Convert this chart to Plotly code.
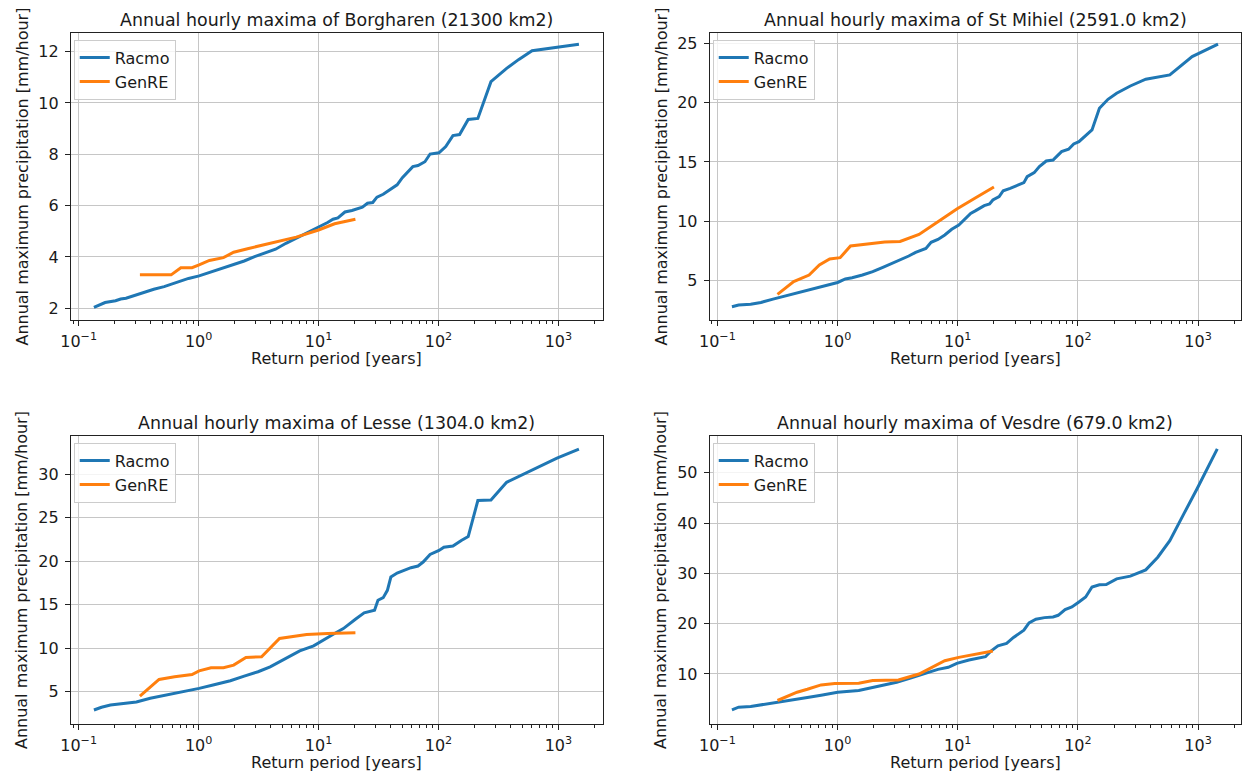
import plotly.graph_objects as go

# Return periods [years] and annual maximum hourly precipitation [mm/hour]

# Borgharen (21300 km2)
borgharen_racmo_T = [0.134, 0.166, 0.203, 0.224, 0.248, 0.324, 0.423, 0.516, 0.631, 0.824,
                     1.01, 1.23, 1.61, 1.84, 2.10, 2.40, 2.93, 3.58, 4.38, 5.35,
                     6.52, 7.96, 10.0, 11.9, 13.2, 14.5, 16.6, 19.0, 23.2, 25.6,
                     28.3, 30.7, 34.6, 38.3, 40.9, 45.2, 50.0, 61.1, 67.5, 77.1,
                     85.1, 101, 115, 132, 150, 177, 213, 274, 370, 468,
                     603, 973, 1483]
borgharen_racmo_P = [2.03, 2.22, 2.29, 2.36, 2.39, 2.58, 2.74, 2.84, 2.97, 3.16,
                     3.26, 3.39, 3.56, 3.65, 3.75, 3.84, 4.01, 4.14, 4.30, 4.53,
                     4.73, 4.92, 5.14, 5.34, 5.47, 5.52, 5.75, 5.81, 5.94, 6.09,
                     6.12, 6.33, 6.44, 6.57, 6.68, 6.81, 7.09, 7.52, 7.56, 7.71,
                     8.01, 8.06, 8.30, 8.73, 8.77, 9.36, 9.40, 10.83, 11.35, 11.70,
                     12.04, 12.16, 12.29]
borgharen_genre_T = [0.324, 0.590, 0.711, 0.881, 1.01, 1.23, 1.61, 1.96, 2.56, 3.58,
                     4.68, 6.52, 10.0, 13.6, 20.3]
borgharen_genre_P = [3.30, 3.30, 3.58, 3.58, 3.69, 3.86, 3.97, 4.18, 4.32, 4.49,
                     4.60, 4.77, 5.05, 5.29, 5.47]

# St Mihiel (2591.0 km2)
stmihiel_racmo_T = [0.132, 0.150, 0.189, 0.230, 0.290, 0.378, 0.491, 0.640, 0.832, 1.0,
                    1.16, 1.32, 1.61, 1.96, 2.38, 3.10, 3.91, 4.46, 5.43, 6.00,
                    6.84, 7.80, 8.91, 10.2, 11.2, 12.8, 14.1, 16.6, 18.4, 19.6,
                    22.1, 23.9, 27.3, 32.1, 35.5, 37.8, 43.3, 47.8, 54.5, 62.1,
                    73.1, 83.6, 92.3, 102, 116, 131, 151, 178, 210, 273,
                    367, 582, 893, 1466]
stmihiel_racmo_P = [2.81, 2.95, 3.01, 3.17, 3.45, 3.75, 4.05, 4.38, 4.65, 4.85,
                    5.15, 5.25, 5.48, 5.76, 6.12, 6.60, 7.08, 7.39, 7.72, 8.23,
                    8.48, 8.85, 9.33, 9.69, 10.06, 10.67, 10.90, 11.32, 11.46, 11.80,
                    12.08, 12.58, 12.78, 13.06, 13.26, 13.76, 14.10, 14.61, 15.08, 15.17,
                    15.87, 16.07, 16.52, 16.71, 17.19, 17.70, 19.52, 20.28, 20.79, 21.40,
                    21.97, 22.33, 23.88, 24.92]
stmihiel_genre_T = [0.316, 0.431, 0.579, 0.705, 0.859, 1.05, 1.28, 1.96, 2.47, 3.31,
                    4.76, 6.84, 9.82, 14.1, 20.0]
stmihiel_genre_P = [3.85, 4.92, 5.48, 6.32, 6.83, 6.94, 7.92, 8.15, 8.26, 8.31,
                    8.90, 9.97, 11.04, 11.99, 12.89]

# Lesse (1304.0 km2)
lesse_racmo_T = [0.134, 0.155, 0.184, 0.232, 0.303, 0.395, 0.552, 0.771, 1.01, 1.32,
                 1.84, 2.40, 3.13, 3.95, 4.68, 5.71, 6.97, 9.10, 11.1, 13.6,
                 16.1, 18.4, 20.3, 24.0, 29.3, 31.3, 34.6, 37.5, 40.1, 45.2,
                 51.6, 59.0, 67.5, 74.5, 85.1, 101, 111, 132, 155, 177,
                 213, 274, 370, 500, 697, 973, 1483]
lesse_racmo_P = [2.90, 3.21, 3.47, 3.66, 3.82, 4.24, 4.62, 5.08, 5.38, 5.76,
                 6.26, 6.79, 7.29, 7.86, 8.40, 9.01, 9.69, 10.27, 10.92, 11.68,
                 12.25, 12.90, 13.32, 14.05, 14.35, 15.50, 15.80, 16.64, 18.17, 18.63,
                 18.93, 19.24, 19.43, 19.89, 20.76, 21.22, 21.60, 21.72, 22.37, 22.82,
                 26.95, 27.02, 29.05, 29.92, 30.95, 31.83, 32.86]
lesse_genre_T = [0.324, 0.468, 0.631, 0.881, 1.01, 1.27, 1.61, 1.96, 2.48, 3.35,
                 4.73, 6.11, 7.96, 11.9, 20.3]
lesse_genre_P = [4.50, 6.41, 6.72, 6.98, 7.40, 7.75, 7.75, 8.05, 8.93, 9.01,
                 11.11, 11.30, 11.56, 11.68, 11.76]

# Vesdre (679.0 km2)
vesdre_racmo_T = [0.132, 0.150, 0.189, 0.290, 0.431, 0.560, 0.729, 1.0, 1.50, 2.09,
                  3.10, 4.04, 5.26, 6.84, 8.34, 9.82, 12.4, 15.1, 17.0, 19.0,
                  21.6, 25.5, 29.1, 35.5, 39.2, 44.7, 52.7, 62.1, 68.5, 78.2,
                  89.1, 102, 116, 131, 151, 172, 210, 273, 367, 462,
                  582, 759, 986, 1445]
vesdre_racmo_P = [2.88, 3.41, 3.54, 4.20, 4.86, 5.32, 5.78, 6.38, 6.70, 7.50,
                  8.35, 9.21, 10.0, 10.92, 11.32, 12.11, 12.77, 13.23, 13.43, 14.61,
                  15.60, 16.06, 17.25, 18.70, 20.15, 20.87, 21.20, 21.33, 21.66, 22.78,
                  23.31, 24.30, 25.29, 27.27, 27.73, 27.79, 28.91, 29.44, 30.69, 33.20,
                  36.49, 41.76, 46.90, 54.74]
vesdre_genre_T = [0.316, 0.460, 0.560, 0.729, 0.948, 1.50, 1.96, 3.21, 4.76, 7.80,
                  10.2, 14.1, 19.6]
vesdre_genre_P = [4.73, 6.38, 6.97, 7.83, 8.09, 8.15, 8.68, 8.81, 10.0, 12.64,
                  13.30, 13.95, 14.55]

panels = [
    dict(title="Annual hourly maxima of Borgharen (21300 km2)",
         racmo=(borgharen_racmo_T, borgharen_racmo_P),
         genre=(borgharen_genre_T, borgharen_genre_P),
         yrange=[1.54, 12.74], dtick=2),
    dict(title="Annual hourly maxima of St Mihiel (2591.0 km2)",
         racmo=(stmihiel_racmo_T, stmihiel_racmo_P),
         genre=(stmihiel_genre_T, stmihiel_genre_P),
         yrange=[1.69, 25.89], dtick=5),
    dict(title="Annual hourly maxima of Lesse (1304.0 km2)",
         racmo=(lesse_racmo_T, lesse_racmo_P),
         genre=(lesse_genre_T, lesse_genre_P),
         yrange=[1.29, 34.40], dtick=5),
    dict(title="Annual hourly maxima of Vesdre (679.0 km2)",
         racmo=(vesdre_racmo_T, vesdre_racmo_P),
         genre=(vesdre_genre_T, vesdre_genre_P),
         yrange=[0.06, 57.35], dtick=10),
]

W, H = 1243, 772
BLUE, ORANGE = "#1f77b4", "#ff7f0e"
FONT = "DejaVu Sans"
TXT = "#1a1a1a"

# axes boxes in pixels: (left, right, top, bottom)
col_px = [(60.3, 597.3), (705.0, 1240.7)]
row_px = [(32.7, 320.0), (435.7, 724.0)]
xranges = [[-1.066, 3.372], [-1.064, 3.355]]

major_vals = [0.1, 1, 10, 100, 1000]
major_text = ["10<sup>\u22121</sup>", "10<sup>0</sup>", "10<sup>1</sup>",
              "10<sup>2</sup>", "10<sup>3</sup>"]
minor_vals = [m * 10.0 ** e for e in range(-2, 4) for m in range(2, 10)]

fig = go.Figure()
annotations = []
layout = {}

for i, p in enumerate(panels):
    r, c = divmod(i, 2)
    left, right = col_px[c]
    top, bottom = row_px[r]
    sfx = "" if i == 0 else str(i + 1)
    xa, ya = "x" + sfx, "y" + sfx
    leg = "legend" + sfx

    fig.add_trace(go.Scatter(x=p["racmo"][0], y=p["racmo"][1], mode="lines",
                             name="Racmo", line=dict(color=BLUE, width=3),
                             xaxis=xa, yaxis=ya, legend=leg, legendgroup="a" + sfx))
    fig.add_trace(go.Scatter(x=p["genre"][0], y=p["genre"][1], mode="lines",
                             name="GenRE", line=dict(color=ORANGE, width=3),
                             xaxis=xa, yaxis=ya, legend=leg, legendgroup="b" + sfx))

    common = dict(showline=True, mirror=True, linecolor="#222222", linewidth=1,
                  showgrid=True, gridcolor="#c6c6c6", gridwidth=1, zeroline=False,
                  ticks="outside", ticklen=5, tickwidth=1, tickcolor="#222222",
                  tickfont=dict(family=FONT, size=16, color=TXT))
    layout["xaxis" + sfx] = dict(
        common, type="log", range=xranges[c], anchor=ya,
        domain=[left / W, right / W],
        tickmode="array", tickvals=major_vals, ticktext=major_text,
        ticklabelstandoff=2,
        minor=dict(tickmode="array", tickvals=minor_vals, ticks="outside",
                   ticklen=3, tickwidth=0.8, tickcolor="#222222", showgrid=False))
    layout["yaxis" + sfx] = dict(
        common, range=p["yrange"], anchor=xa,
        domain=[1 - bottom / H, 1 - top / H],
        tickmode="linear", tick0=0, dtick=p["dtick"], ticklabelstandoff=3)

    layout[leg] = dict(
        x=(left + 3) / W, y=1 - (top + 7) / H, xanchor="left", yanchor="top",
        xref="paper", yref="paper",
        bgcolor="rgba(255,255,255,0.8)", bordercolor="#cccccc", borderwidth=1,
        font=dict(family=FONT, size=16, color=TXT),
        traceorder="grouped", tracegroupgap=0, itemwidth=30)

    cx = (left + right) / 2
    annotations.append(dict(text=p["title"], x=cx / W, y=1 - (top - 12.5) / H,
                            xref="paper", yref="paper", showarrow=False,
                            xanchor="center", yanchor="middle",
                            font=dict(family=FONT, size=17.4, color=TXT)))
    annotations.append(dict(text="Return period [years]", x=cx / W,
                            y=1 - (bottom + 38.5) / H, xref="paper", yref="paper",
                            showarrow=False, xanchor="center", yanchor="middle",
                            font=dict(family=FONT, size=16, color=TXT)))
    annotations.append(dict(text="Annual maximum precipitation [mm/hour]",
                            x=(left - 49) / W, y=1 - (top + bottom) / 2 / H,
                            xref="paper", yref="paper", showarrow=False,
                            textangle=-90, xanchor="center", yanchor="middle",
                            font=dict(family=FONT, size=16, color=TXT)))

fig.update_layout(
    width=W, height=H, margin=dict(l=0, r=0, t=0, b=0),
    paper_bgcolor="white", plot_bgcolor="white",
    showlegend=True, annotations=annotations, **layout)

fig.write_html("out.html")
